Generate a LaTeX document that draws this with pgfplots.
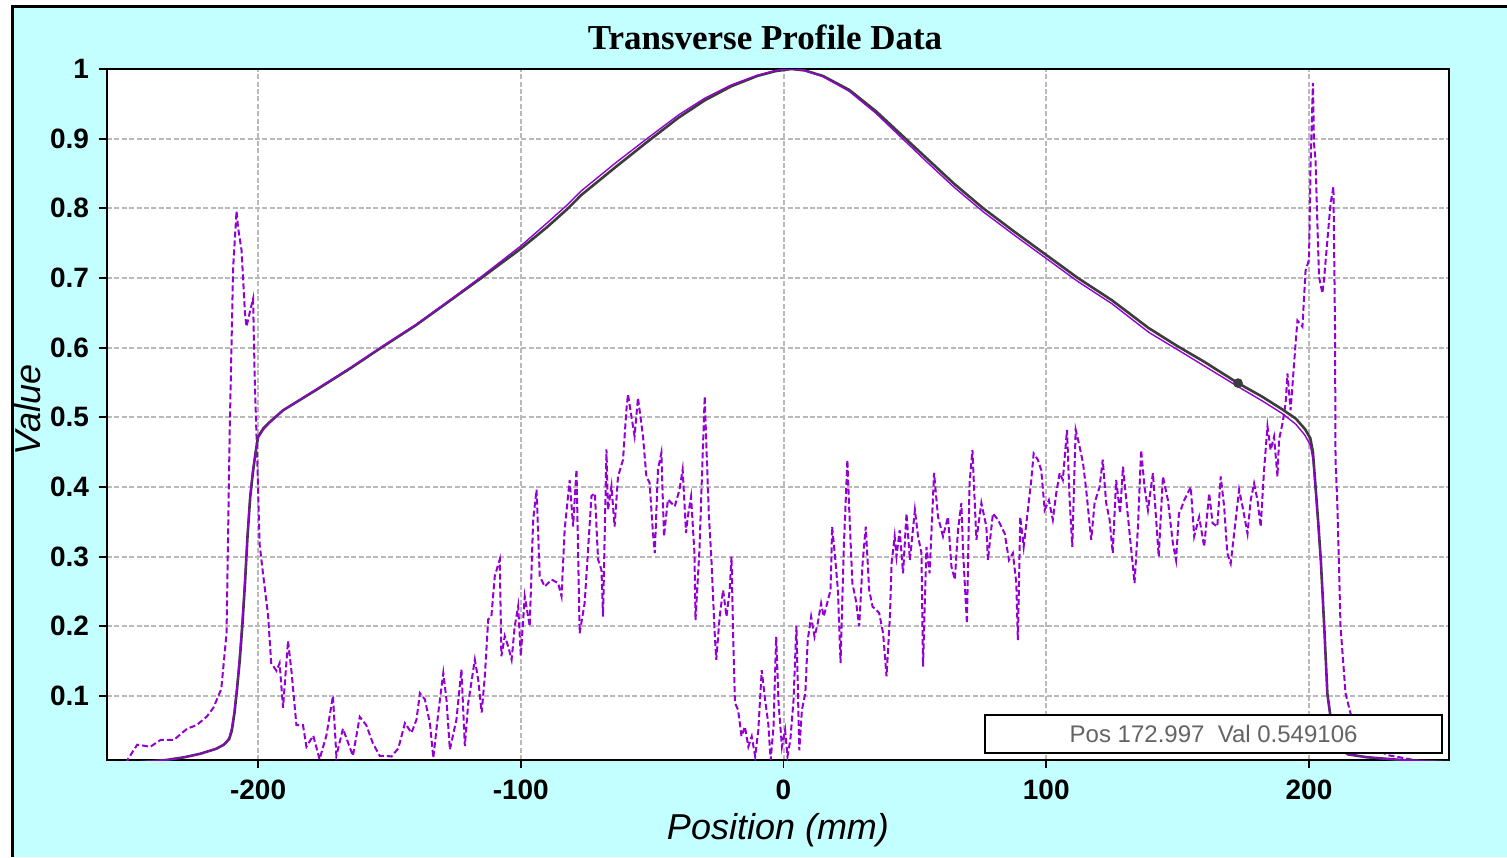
\documentclass[border=0pt]{standalone}
\usepackage{pgfplots}
\pgfplotsset{compat=1.18}
\usepackage{fontspec}
\setmainfont{Liberation Sans}
\newfontfamily\titlefont{Liberation Serif}
\definecolor{bgcyan}{RGB}{196,255,255}
\definecolor{dviolet}{RGB}{148,0,211}
\definecolor{gridgray}{RGB}{185,185,185}
\definecolor{curvegray}{RGB}{60,60,60}
\definecolor{boxtext}{RGB}{100,100,100}

\pgfplotstableread{
x y
-257.5 0.004
-245 0.005
-235 0.008
-228 0.012
-222 0.017
-216 0.024
-213 0.030
-211 0.038
-210 0.050
-209 0.075
-208 0.110
-207 0.150
-206 0.200
-205 0.260
-204 0.330
-203 0.385
-202 0.420
-201 0.448
-200 0.472
-198 0.484
-195.6 0.493
-190.5 0.510
-178 0.539
-165 0.570
-152.7 0.601
-140 0.632
-127.5 0.666
-115 0.700
-100 0.742
-90 0.773
-82 0.800
-77 0.819
-64 0.859
-52 0.895
-40 0.930
-30 0.955
-20 0.975
-10 0.990
-3 0.997
3 1.000
8 0.998
15 0.990
25 0.970
35 0.940
45 0.905
55 0.870
65 0.835
76 0.800
88 0.766
100 0.733
112 0.700
125 0.668
139 0.628
150 0.602
160 0.580
173 0.549
182 0.530
190 0.511
195 0.498
198.5 0.483
200.5 0.470
201.5 0.450
202.5 0.400
203.5 0.350
204.5 0.295
205.8 0.200
207 0.103
208.2 0.070
209.5 0.040
211 0.025
215 0.016
222 0.012
235 0.008
253.3 0.005
}\blackcurve

\pgfplotstableread{
x y
-257.5 0.004
-245 0.005
-235 0.008
-228 0.012
-222 0.017
-216 0.024
-213 0.030
-211 0.040
-210 0.055
-209 0.080
-208 0.115
-207 0.160
-206 0.210
-205 0.270
-204 0.335
-203 0.390
-202 0.425
-201 0.450
-200 0.470
-198 0.482
-195.6 0.492
-190.5 0.510
-178 0.540
-165 0.571
-152.7 0.602
-140 0.633
-127.5 0.667
-115 0.702
-100 0.746
-90 0.779
-82 0.806
-77 0.825
-64 0.865
-52 0.900
-40 0.934
-30 0.958
-20 0.977
-10 0.991
-3 0.998
3 1.000
8 0.998
15 0.989
25 0.968
35 0.937
45 0.901
55 0.865
65 0.830
76 0.795
88 0.761
100 0.728
112 0.695
125 0.663
139 0.622
150 0.597
160 0.574
173 0.544
182 0.524
190 0.505
195 0.490
198.5 0.474
200.5 0.460
201.5 0.440
202.5 0.395
203.5 0.345
204.5 0.290
205.8 0.195
207 0.100
208.2 0.068
209.5 0.040
211 0.025
215 0.016
222 0.012
235 0.008
253.3 0.005
}\violetcurve

\pgfplotstableread{
x y
-257.5 0.005
-250 0.005
-249.4 0.010
-246 0.030
-241 0.027
-237 0.037
-232 0.037
-227 0.053
-223.4 0.058
-219.6 0.070
-217 0.083
-214 0.110
-212 0.190
-210.8 0.480
-209.5 0.714
-208.2 0.796
-207.6 0.772
-206.3 0.740
-205 0.650
-204.4 0.630
-203.2 0.650
-201.9 0.670
-201.3 0.560
-200 0.400
-199.4 0.317
-198.1 0.275
-196.2 0.216
-195 0.147
-193 0.136
-191.8 0.147
-190.5 0.083
-188.6 0.179
-187.3 0.136
-185.4 0.058
-182.9 0.058
-181.6 0.027
-179 0.043
-176.6 0.009
-174 0.043
-171.5 0.100
-170.2 0.014
-167.7 0.053
-163.9 0.014
-161.3 0.070
-158.8 0.058
-156.3 0.032
-153.7 0.014
-151.2 0.014
-149.2 0.013
-146.6 0.025
-144.1 0.061
-141.6 0.047
-139.7 0.066
-138.4 0.104
-136.5 0.095
-134.6 0.061
-133.3 0.011
-131.4 0.076
-129.5 0.133
-128.3 0.095
-127 0.023
-124.5 0.066
-122.6 0.138
-121.3 0.028
-120 0.090
-117.5 0.152
-116.2 0.123
-114.9 0.076
-113.7 0.128
-112.4 0.210
-111.2 0.214
-109.9 0.272
-108 0.296
-107.4 0.157
-106.1 0.186
-104.8 0.171
-103.5 0.152
-102.3 0.200
-101 0.229
-100 0.157
-98.5 0.243
-96.6 0.200
-95.3 0.353
-94 0.396
-92.8 0.272
-90.9 0.257
-88.3 0.267
-85.8 0.262
-84.5 0.243
-83.3 0.339
-81.4 0.410
-80.1 0.343
-78.8 0.425
-77.6 0.190
-75.7 0.233
-74.4 0.310
-73.1 0.387
-71.8 0.391
-70.6 0.296
-69.3 0.281
-68.7 0.214
-67.4 0.454
-66.8 0.367
-65.5 0.401
-64.3 0.343
-63 0.415
-61.1 0.439
-59.8 0.511
-59.2 0.533
-57.9 0.501
-56.7 0.473
-55.4 0.528
-53.5 0.473
-52.2 0.415
-51 0.406
-49.7 0.334
-49 0.305
-47.8 0.425
-46.5 0.449
-45.5 0.329
-44 0.382
-41.4 0.372
-39.6 0.396
-38.4 0.425
-37.1 0.334
-36.4 0.358
-35.2 0.386
-33.9 0.305
-33.5 0.209
-32 0.310
-30.7 0.454
-30 0.530
-29.4 0.463
-28.4 0.358
-27.5 0.300
-26.2 0.190
-25.6 0.152
-24.3 0.214
-23 0.252
-21.7 0.214
-20.5 0.252
-19.8 0.300
-19.2 0.190
-18.5 0.090
-17.3 0.080
-16 0.042
-14.7 0.056
-13.4 0.027
-12.1 0.042
-10.8 0.013
-9.6 0.051
-8.3 0.137
-7 0.094
-5.8 0.060
-4.9 0.008
-3.8 0.056
-2.8 0.185
-1.9 0.090
-0.6 0.027
0.6 0.051
1.5 0.013
2.6 0.037
3.8 0.094
4.9 0.200
6 0.022
7 0.080
8.3 0.104
9.2 0.180
10.5 0.214
11.8 0.185
13 0.204
14.3 0.233
15.3 0.214
16.6 0.233
17.9 0.252
18.5 0.343
19.6 0.300
20.7 0.252
21.7 0.147
23 0.319
24.3 0.439
24.9 0.377
26.2 0.262
27.5 0.238
28.8 0.200
30.1 0.291
31.3 0.343
32.6 0.252
33.9 0.228
35.2 0.224
36.4 0.219
37.9 0.190
39.2 0.128
40.5 0.214
41.1 0.290
42.3 0.329
43 0.300
44.2 0.338
45.5 0.276
46.8 0.362
48.1 0.295
50 0.367
51.2 0.329
52.5 0.305
53.1 0.142
54.4 0.314
55.6 0.276
57.3 0.420
58.8 0.357
60.7 0.329
62.6 0.357
63.9 0.286
65.2 0.267
66.4 0.338
67.7 0.377
68.3 0.310
69.8 0.204
70.8 0.405
71.9 0.453
73.4 0.324
75.3 0.377
77.2 0.343
77.8 0.295
79.7 0.362
81.6 0.353
84.2 0.333
85.8 0.295
87.3 0.305
88.6 0.262
89.2 0.180
90.1 0.357
91.4 0.314
93 0.367
94.3 0.410
95.2 0.448
96.8 0.439
98.1 0.424
99.4 0.367
101 0.381
102.5 0.353
103.8 0.391
105.1 0.420
106.3 0.410
107.9 0.482
108.9 0.381
109.9 0.314
111.2 0.482
112.4 0.463
114 0.434
115.2 0.396
117.1 0.324
118.4 0.377
120.3 0.400
121.5 0.439
122.8 0.377
124.1 0.353
125.3 0.305
126.6 0.410
128.1 0.362
129.2 0.429
131.1 0.357
133.6 0.262
134.9 0.343
136.1 0.453
137.4 0.400
138.7 0.367
140.6 0.420
142.8 0.300
144.4 0.415
146.3 0.381
148.2 0.319
149.4 0.295
150.5 0.362
151.2 0.367
152.5 0.381
155 0.400
156.3 0.329
158.2 0.357
160.1 0.314
162 0.391
163.3 0.348
165.1 0.343
166.4 0.415
167.7 0.372
168.9 0.305
170.2 0.290
171.5 0.333
173.4 0.396
174.7 0.372
176.6 0.333
177.8 0.381
179.1 0.405
180.4 0.381
181.6 0.343
182.9 0.424
184.2 0.487
185.4 0.453
186.7 0.472
188 0.415
188.6 0.468
189.9 0.491
191.1 0.520
191.8 0.563
193 0.510
194.9 0.606
195.6 0.639
197.5 0.630
198.7 0.711
200 0.726
200.6 0.860
201.5 0.980
201.9 0.893
202.5 0.869
203.2 0.778
203.8 0.702
205.1 0.678
205.7 0.697
207 0.754
208.2 0.807
209.3 0.831
209.9 0.630
210.1 0.438
210.8 0.376
212 0.200
213.9 0.104
215.8 0.075
218 0.050
222 0.030
230 0.015
240 0.008
245 0.004
253.3 0.004
}\diffcurve

\begin{document}
\begin{tikzpicture}[x=1pt,y=1pt]
\path[use as bounding box] (0,0) rectangle (753.5,428.5);
\fill[white] (0,0) rectangle (753.5,428.5);
\fill[bgcyan] (6,0) rectangle (753.5,425);
\draw[black, line width=1.5pt] (6,0) -- (6,425) -- (753.5,425);
\begin{axis}[
  at={(53.5pt,48.5pt)}, anchor=south west,
  scale only axis,
  width=671pt, height=345.5pt,
  xmin=-257.5, xmax=253.3,
  ymin=0.008, ymax=1.0,
  axis background/.style={fill=white},
  axis line style={black, line width=1pt},
  tick pos=left,
  tick align=outside,
  major tick length=4pt,
  tick style={black, line width=0.9pt},
  xtick={-200,-100,0,100,200},
  xticklabels={-200,-100,0,100,200},
  ytick={0.1,0.2,0.3,0.4,0.5,0.6,0.7,0.8,0.9,1},
  yticklabels={0.1,0.2,0.3,0.4,0.5,0.6,0.7,0.8,0.9,1},
  ticklabel style={font=\bfseries\fontsize{14}{14}\selectfont},
  xticklabel style={yshift=-2.5pt},
  yticklabel style={xshift=-1.5pt},
  grid=major,
  major grid style={gridgray, line width=1pt, dash pattern=on 2.5pt off 1.2pt},
]
\addplot[dviolet, line width=1pt, dash pattern=on 3pt off 1.5pt] table[x=x,y=y] {\diffcurve};
\addplot[curvegray, line width=1.3pt] table[x=x,y=y] {\blackcurve};
\addplot[dviolet, line width=0.7pt] table[x=x,y=y] {\violetcurve};
\addplot[only marks, mark=*, mark size=2.2pt, curvegray] coordinates {(172.997,0.549106)};
\draw[black, line width=1pt, fill=white] (axis cs:76.8,0.0733) rectangle (axis cs:250.6,0.0187);
\node[boxtext, font=\fontsize{12}{12}\selectfont] at (axis cs:163.7,0.046) {Pos 172.997\ \ Val 0.549106};
\end{axis}
\node[font=\titlefont\bfseries\fontsize{17.5}{17.5}\selectfont] at (382.5,410) {Transverse Profile Data};
\node[font=\itshape\fontsize{18}{18}\selectfont] at (389,13.5) {Position (mm)};
\node[font=\itshape\fontsize{18}{18}\selectfont, rotate=90] at (14,223.5) {Value};
\end{tikzpicture}
\end{document}
